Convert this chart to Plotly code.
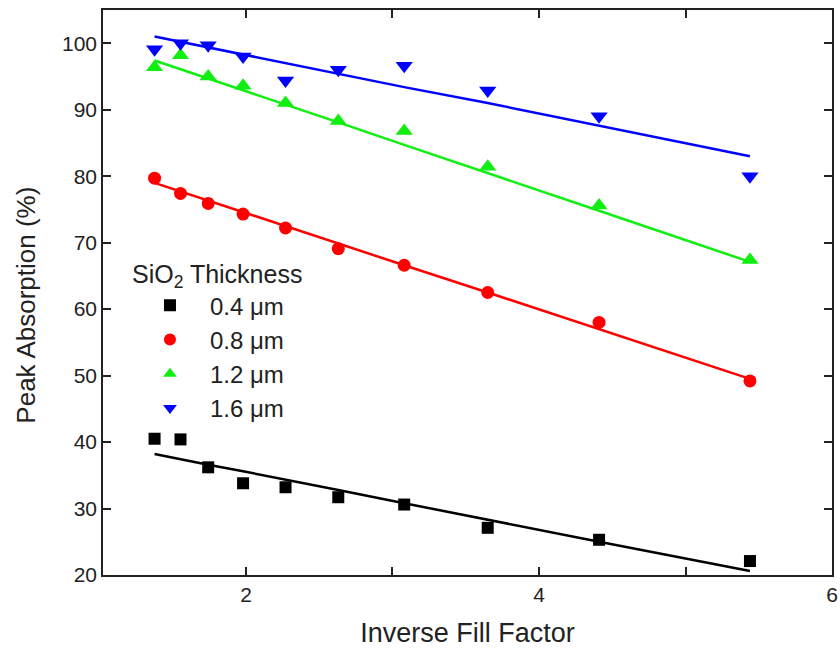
import plotly.graph_objects as go

inv_fill = [1.376, 1.553, 1.742, 1.98, 2.27, 2.63, 3.08, 3.65, 4.41, 5.44]

abs_04 = [40.5, 40.4, 36.2, 33.8, 33.2, 31.7, 30.6, 27.1, 25.3, 22.1]
abs_08 = [79.7, 77.4, 75.9, 74.3, 72.2, 69.1, 66.6, 62.5, 58.0, 49.2]
abs_12 = [96.4, 98.2, 95.0, 93.6, 91.0, 88.3, 86.8, 81.4, 75.6, 67.4]
abs_16 = [99.1, 100.0, 99.7, 98.0, 94.4, 96.0, 96.6, 92.9, 89.0, 80.0]

fit_04 = [38.2, 37.4, 36.6, 35.6, 34.3, 32.8, 30.8, 28.3, 25.0, 20.6]
fit_08 = [79.0, 77.7, 76.4, 74.6, 72.5, 69.9, 66.6, 62.5, 57.0, 49.5]
fit_12 = [97.4, 96.1, 94.7, 92.9, 90.8, 88.1, 84.7, 80.5, 74.8, 67.1]
fit_16 = [101.0, 100.2, 99.4, 98.3, 97.0, 95.4, 93.4, 91.0, 87.6, 83.0]

labels = ["0.4 \u03bcm", "0.8 \u03bcm", "1.2 \u03bcm", "1.6 \u03bcm"]
colors = ["#000000", "#ff0000", "#11ee11", "#0000ff"]
symbols = ["square", "circle", "triangle-up", "triangle-down"]
sizes = [12, 13, 15, 15]

x_tickvals = [2, 3, 4, 5, 6]
x_ticktext = ["2", "", "4", "", "6"]

data = [abs_04, abs_08, abs_12, abs_16]
fits = [fit_04, fit_08, fit_12, fit_16]

fig = go.Figure()
for col, fy in zip(colors, fits):
    fig.add_trace(go.Scatter(x=inv_fill, y=fy, mode="lines",
                             line=dict(color=col, width=2.5),
                             showlegend=False, hoverinfo="skip"))
for lab, col, sym, sz, ys in zip(labels, colors, symbols, sizes, data):
    fig.add_trace(go.Scatter(x=inv_fill, y=ys, mode="markers", name=lab,
                             marker=dict(color=col, symbol=sym, size=sz,
                                         line=dict(width=0))))

font = "Liberation Sans, Arial, sans-serif"
tcol = "#222"
axis_common = dict(showline=True, linecolor="#222", linewidth=1.5, mirror="ticks",
                   ticks="inside", ticklen=8, tickwidth=1.5, tickcolor="#222",
                   showgrid=False, zeroline=False, ticklabeloverflow="allow",
                   tickfont=dict(family=font, size=21, color=tcol))

fig.update_layout(
    width=840, height=651,
    margin=dict(l=103, r=2, t=10, b=76),
    plot_bgcolor="white", paper_bgcolor="white",
    xaxis=dict(range=[1.024, 6.0], tickvals=x_tickvals, ticktext=x_ticktext,
               title=dict(text="Inverse Fill Factor", font=dict(family=font, size=27, color=tcol),
                          standoff=18),
               **axis_common),
    yaxis=dict(range=[20, 105], dtick=10, **axis_common),
    legend=dict(x=0.037, y=0.574, xanchor="left", yanchor="top",
                bgcolor="rgba(0,0,0,0)",
                title=dict(text="SiO<sub>2</sub> Thickness", font=dict(family=font, size=25, color=tcol)),
                font=dict(family=font, size=24, color=tcol),
                tracegroupgap=0, itemsizing="constant", itemwidth=70),
    annotations=[dict(text="Peak Absorption (%)", textangle=-90, xref="paper", yref="paper",
                      x=-0.106, y=0.478, xanchor="center", yanchor="middle", showarrow=False,
                      font=dict(family=font, size=26, color=tcol))],
)

fig.write_html("out.html")
